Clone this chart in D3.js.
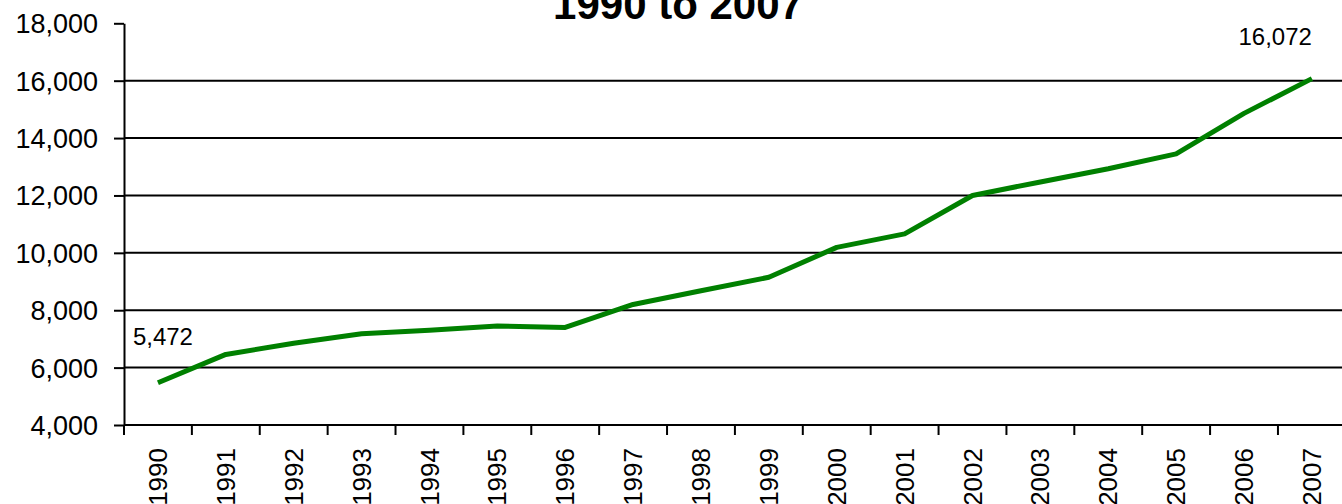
<!DOCTYPE html>
<html>
<head>
<meta charset="utf-8">
<script src="https://cdn.jsdelivr.net/npm/d3@7"></script>
<style>
  body { margin: 0; background: #fff; }
  svg { display: block; font-family: "Liberation Sans", Arial, sans-serif; }
</style>
</head>
<body>
<div id="vis"></div>
<script>
// chart data
const YEARS = ["1990", "1991", "1992", "1993", "1994", "1995", "1996", "1997", "1998",
               "1999", "2000", "2001", "2002", "2003", "2004", "2005", "2006", "2007"];
const VALUES = [5472, 6460, 6850, 7180, 7300, 7450, 7400, 8200, 8680,
                9150, 10190, 10660, 12000, 12470, 12930, 13450, 14860, 16072];
const Y_TICKS = [4000, 6000, 8000, 10000, 12000, 14000, 16000, 18000];
const TITLE = "1990 to 2007";

// frame
const FRAME_WIDTH = 1342;
const FRAME_HEIGHT = 504;
const MARGINS = {left: 124, top: 23.3, bottom: 79};
const STEP = 67.88;

const FRAME = d3.select("#vis")
                .append("svg")
                  .attr("width", FRAME_WIDTH)
                  .attr("height", FRAME_HEIGHT);

// scales
const X_SCALE = d3.scaleBand()
                  .domain(YEARS)
                  .range([MARGINS.left, MARGINS.left + STEP * YEARS.length]);

const Y_SCALE = d3.scaleLinear()
                  .domain([4000, 18000])
                  .range([FRAME_HEIGHT - MARGINS.bottom, MARGINS.top]);

const fmt = d3.format(",");

// gridlines (not at the bottom / top values)
FRAME.selectAll(".grid")
     .data(Y_TICKS.slice(1, -1))
     .enter()
     .append("line")
       .attr("x1", MARGINS.left)
       .attr("x2", FRAME_WIDTH)
       .attr("y1", (d) => { return Y_SCALE(d); })
       .attr("y2", (d) => { return Y_SCALE(d); })
       .attr("stroke", "#000")
       .attr("stroke-width", 2);

// y axis
const yAxis = FRAME.append("g")
     .attr("transform", "translate(" + MARGINS.left + ",0)")
     .call(d3.axisLeft(Y_SCALE).tickValues(Y_TICKS).tickFormat(fmt)
             .tickSize(10).tickSizeOuter(0).tickPadding(16));
yAxis.select(".domain").attr("stroke", "#000").attr("stroke-width", 2);
yAxis.selectAll(".tick line").attr("stroke", "#000").attr("stroke-width", 2);
yAxis.selectAll("text")
     .attr("font-size", "27px")
     .attr("font-family", "'Liberation Sans', Arial, sans-serif")
     .attr("fill", "#000")
     .attr("dy", "0.35em");

// x axis (labels at band centres)
const xAxis = FRAME.append("g")
     .attr("transform", "translate(0," + Y_SCALE(4000) + ")")
     .call(d3.axisBottom(X_SCALE).tickSize(0).tickSizeOuter(0));
xAxis.select(".domain")
     .attr("d", "M" + MARGINS.left + ",0H" + FRAME_WIDTH)
     .attr("stroke", "#000").attr("stroke-width", 2);
xAxis.selectAll("text")
     .attr("font-size", "26px")
     .attr("font-family", "'Liberation Sans', Arial, sans-serif")
     .attr("fill", "#000")
     .attr("text-anchor", "end")
     .attr("transform", "translate(0,23) rotate(-90)")
     .attr("x", 0)
     .attr("y", 0)
     .attr("dy", "0.35em");

// x ticks at band boundaries
FRAME.selectAll(".xtick")
     .data(YEARS)
     .enter()
     .append("line")
       .attr("x1", (d) => { return X_SCALE(d); })
       .attr("x2", (d) => { return X_SCALE(d); })
       .attr("y1", Y_SCALE(4000))
       .attr("y2", Y_SCALE(4000) + 10)
       .attr("stroke", "#000")
       .attr("stroke-width", 2);

// the line
const line = d3.line()
               .x((d, i) => { return X_SCALE(YEARS[i]) + X_SCALE.bandwidth() / 2; })
               .y((d) => { return Y_SCALE(d); });

FRAME.append("path")
     .datum(VALUES)
     .attr("d", line)
     .attr("fill", "none")
     .attr("stroke", "#008000")
     .attr("stroke-width", 5)
     .attr("stroke-linejoin", "round");

// first and last value labels
const LAST = VALUES.length - 1;
const cx = (i) => { return X_SCALE(YEARS[i]) + X_SCALE.bandwidth() / 2; };

FRAME.append("text")
     .attr("x", cx(0) + 5)
     .attr("y", Y_SCALE(VALUES[0]) - 38)
     .attr("text-anchor", "middle")
     .attr("font-size", "24px")
     .text(fmt(VALUES[0]));

FRAME.append("text")
     .attr("x", cx(LAST))
     .attr("y", Y_SCALE(VALUES[LAST]) - 34)
     .attr("text-anchor", "end")
     .attr("font-size", "24px")
     .text(fmt(VALUES[LAST]));

// title (top part is cut off in the original)
FRAME.append("text")
     .attr("x", 678)
     .attr("y", 19)
     .attr("text-anchor", "middle")
     .attr("font-size", "42px")
     .attr("font-weight", "bold")
     .text(TITLE);
</script>
</body>
</html>
